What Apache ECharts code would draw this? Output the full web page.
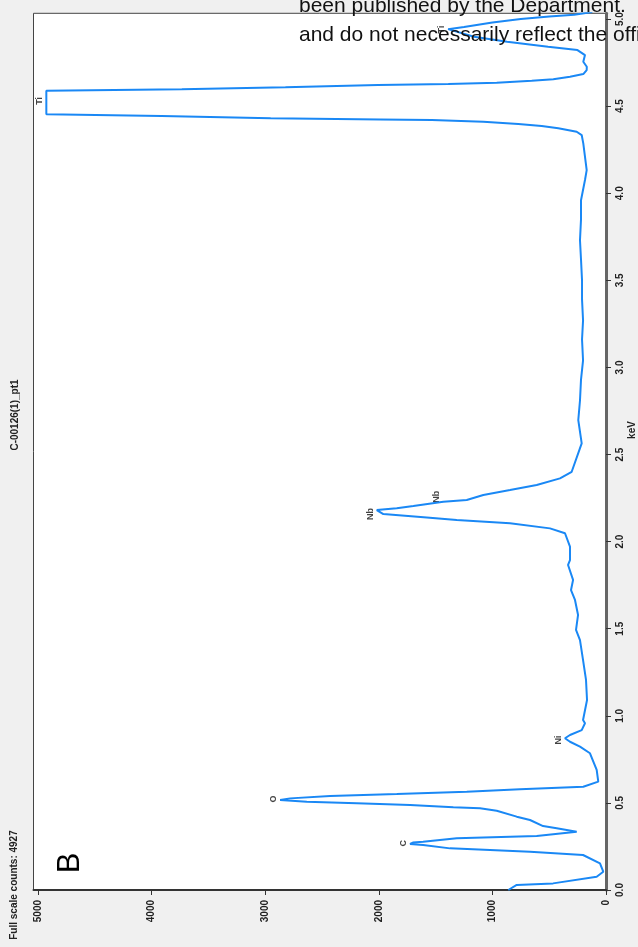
<!DOCTYPE html>
<html>
<head>
<meta charset="utf-8">
<script src="https://cdn.jsdelivr.net/npm/echarts@6/dist/echarts.min.js"></script>
<style>
  html, body { margin: 0; padding: 0; background: #f0f0f0; }
  #chart { width: 638px; height: 947px; }
</style>
</head>
<body>
<div id="chart"></div>
<script>
// EDS spectrum C-00126(1)_pt1 : energy (keV) and detector counts
const energyKeV = [
  0.000, 0.029, 0.038, 0.076, 0.105, 0.153, 0.201, 0.220, 0.230, 0.239,
  0.258, 0.264, 0.268, 0.272, 0.277, 0.297, 0.310, 0.335, 0.354, 0.367,
  0.402, 0.421, 0.455, 0.469, 0.475, 0.488, 0.498, 0.507, 0.517, 0.526,
  0.540, 0.551, 0.564, 0.578, 0.593, 0.622, 0.689, 0.785, 0.823, 0.851,
  0.871, 0.890, 0.918, 0.957, 0.976, 1.091, 1.206, 1.320, 1.435, 1.493,
  1.579, 1.665, 1.722, 1.780, 1.866, 1.894, 1.971, 2.048, 2.076, 2.105,
  2.124, 2.139, 2.158, 2.181, 2.191, 2.204, 2.229, 2.239, 2.268, 2.296,
  2.325, 2.363, 2.401, 2.564, 2.698, 2.810, 2.930, 3.040, 3.160, 3.270,
  3.390, 3.500, 3.620, 3.730, 3.850, 3.960, 4.076, 4.133, 4.286, 4.334,
  4.353, 4.373, 4.386, 4.397, 4.410, 4.420, 4.424, 4.430, 4.443, 4.453,
  4.589, 4.597, 4.608, 4.621, 4.627, 4.634, 4.646, 4.654, 4.669, 4.684,
  4.707, 4.726, 4.755, 4.793, 4.822, 4.841, 4.870, 4.898, 4.942, 4.955,
  4.980, 5.000, 5.015, 5.025, 5.040
];
const counts = [
  860, 786, 466, 82, 24, 53, 202, 669, 1021, 1373,
  1610, 1725, 1725, 1700, 1610, 1314, 610, 258, 434, 554,
  669, 786, 962, 1109, 1344, 1725, 2194, 2634, 2869, 2781,
  2429, 1842, 1226, 757, 200, 68, 82, 141, 229, 317,
  361, 317, 214, 185, 202, 167, 176, 202, 229, 264,
  246, 273, 308, 290, 334, 317, 317, 361, 493, 845,
  1314, 1578, 1960, 2018, 1842, 1696, 1432, 1226, 1080, 845,
  610, 405, 302, 214, 244, 229, 220, 202, 211, 202,
  211, 211, 220, 229, 220, 220, 185, 170, 200, 214,
  258, 420, 566, 772, 1080, 1534, 1989, 2952, 3913, 4927,
  4927, 3734, 2822, 2008, 1388, 962, 654, 464, 317, 200,
  170, 169, 200, 185, 251, 510, 871, 1162, 1390, 1250,
  1000, 750, 500, 280, 120
];

// axis tick values
const countTicks = [0, 1000, 2000, 3000, 4000, 5000];
const keVTicks = [0, 0.5, 1.0, 1.5, 2.0, 2.5, 3.0, 3.5, 4.0, 4.5, 5.0];

// element line markers
const peakNames = ['C', 'O', 'Ni', 'Nb', 'Nb', 'Ti', 'Ti'];
const peakKeV = [0.268, 0.522, 0.861, 2.158, 2.258, 4.53, 4.94];
const peakCounts = [1725, 2869, 361, 2018, 1432, 4927, 1390];

const spectrum = energyKeV.map((e, i) => [counts[i], e]);
const markers = peakNames.map((n, i) => ({ name: n, value: [peakCounts[i], peakKeV[i]] }));

const FONT = 'Liberation Sans, Arial, sans-serif';
const chart = echarts.init(document.getElementById('chart'), null, { renderer: 'canvas' });

chart.setOption({
  backgroundColor: '#f0f0f0',
  animation: false,
  grid: {
    left: 33.5, right: 32, top: 13.3, bottom: 57,
    show: true, backgroundColor: '#ffffff', borderColor: '#444', borderWidth: 1
  },
  xAxis: {
    type: 'value', inverse: true, min: 0, max: 5040, position: 'bottom',
    axisLine: { show: true, onZero: false, lineStyle: { color: '#333', width: 2 } },
    axisTick: { show: true, length: 5, customValues: countTicks, lineStyle: { color: '#333' } },
    axisLabel: {
      customValues: countTicks, rotate: 90, margin: 10,
      formatter: v => String(v),
      fontSize: 10, fontWeight: 'bold', color: '#222', fontFamily: FONT
    },
    splitLine: { show: false }
  },
  yAxis: {
    type: 'value', min: 0, max: 5.033, position: 'right',
    axisLine: { show: true, onZero: false, lineStyle: { color: '#666', width: 3 } },
    axisTick: { show: true, length: 5, customValues: keVTicks, lineStyle: { color: '#333' } },
    axisLabel: {
      customValues: keVTicks, rotate: 90, margin: 9,
      formatter: v => v.toFixed(1),
      fontSize: 10, fontWeight: 'bold', color: '#222', fontFamily: FONT
    },
    splitLine: { show: false }
  },
  series: [
    {
      type: 'line', data: spectrum, showSymbol: false, clip: true,
      lineStyle: { color: '#1a88f5', width: 2 }
    },
    {
      type: 'scatter', data: markers, symbolSize: 0,
      label: {
        show: true, formatter: p => p.name, position: 'left', distance: 2,
        rotate: 90, align: 'center', verticalAlign: 'bottom',
        fontSize: 9, fontWeight: 'bold', color: '#111', fontFamily: FONT
      }
    }
  ],
  graphic: [
    { type: 'text', x: 14, y: 885, rotation: Math.PI / 2,
      style: { text: 'Full scale counts: 4927', font: 'bold 10px ' + FONT, fill: '#222', align: 'center', verticalAlign: 'middle' } },
    { type: 'text', x: 15, y: 415, rotation: Math.PI / 2,
      style: { text: 'C-00126(1)_pt1', font: 'bold 10px ' + FONT, fill: '#222', align: 'center', verticalAlign: 'middle' } },
    { type: 'text', x: 632, y: 430, rotation: Math.PI / 2,
      style: { text: 'keV', font: 'bold 10px ' + FONT, fill: '#222', align: 'center', verticalAlign: 'middle' } },
    { type: 'text', x: 70, y: 863, rotation: Math.PI / 2,
      style: { text: 'B', font: '31px ' + FONT, fill: '#000', align: 'center', verticalAlign: 'middle' } },
    { type: 'text', x: 299, y: 6, z: 100,
      style: { text: 'been published by the Department.', font: '21px ' + FONT, fill: '#111', align: 'left', verticalAlign: 'middle' } },
    { type: 'text', x: 299, y: 35, z: 100,
      style: { text: 'and do not necessarily reflect the official', font: '21px ' + FONT, fill: '#111', align: 'left', verticalAlign: 'middle' } }
  ]
});
</script>
</body>
</html>
